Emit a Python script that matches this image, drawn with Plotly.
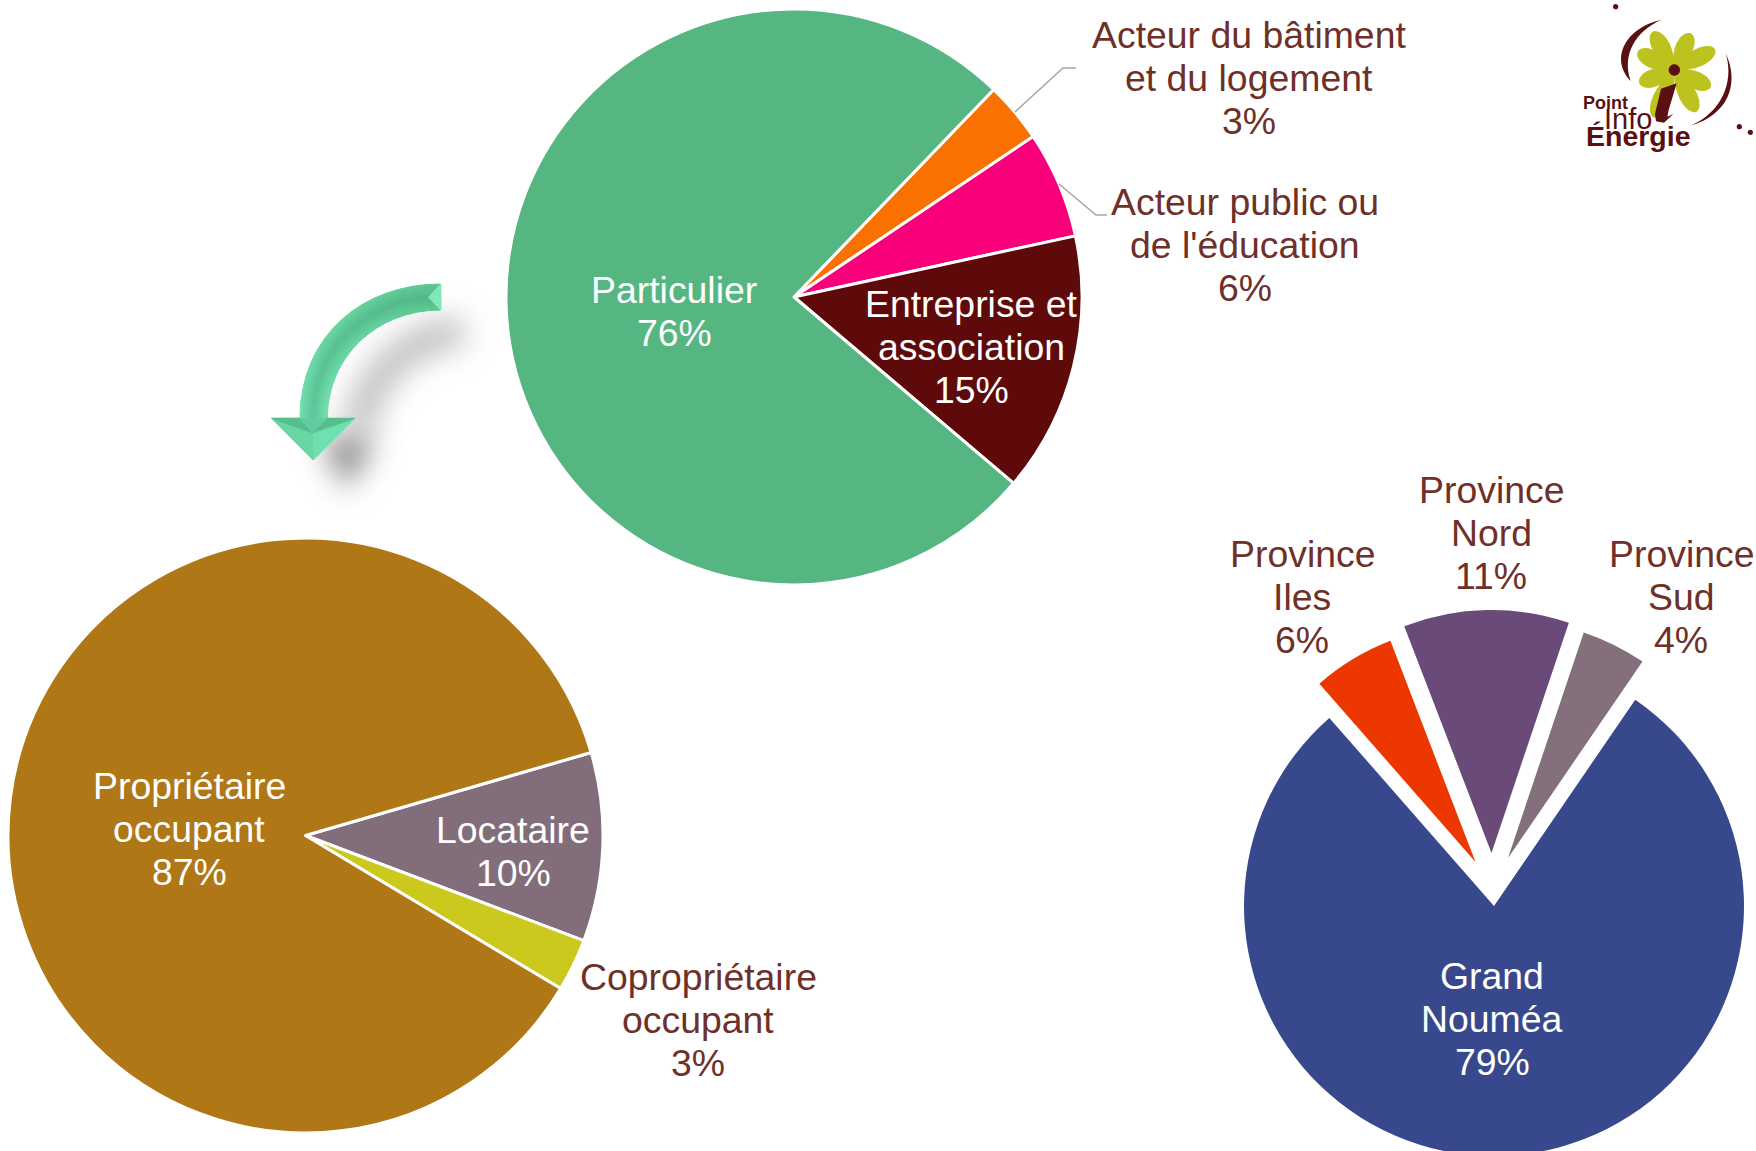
import plotly.graph_objects as go
import math

# ---- data ----
LABELS_TOP = ["Acteur du bâtiment et du logement", "Acteur public ou de l'éducation", "Entreprise et association", "Particulier"]
VALUES_TOP = [3.4, 6.0, 14.6, 76.0]
LABELS_LEFT = ["Locataire", "Copropriétaire occupant", "Propriétaire occupant"]
VALUES_LEFT = [10.25, 2.85, 86.9]
LABELS_RIGHT = ["Grand Nouméa", "Province Iles", "Province Nord", "Province Sud"]
VALUES_RIGHT = [79.0, 5.6, 11.0, 4.4]

COLORS_TOP = ["#F97100", "#F9007A", "#5F0A0A", "#55B682"]
COLORS_LEFT = ["#826E7A", "#CBC81E", "#B07716"]
COLORS_RIGHT = ["#38488C", "#EC3800", "#6A4A78", "#84707C"]

MAROON = "#6E3028"
WHITE = "#FFFFFF"
LOGO = "#5A0F10"
FONT = "Liberation Sans"
FS = 37.4
PITCH = 43

# figure slightly taller than the window: the bottom of the right pie is cut by the page
W, H = 1756, 1162
fx = lambda x: x / W
fy = lambda y: 1 - y / H
pt = lambda x, y: f"{fx(x):.5f},{fy(y):.5f}"


def domain(cx, cy, half):
    return dict(x=[fx(cx - half), fx(cx + half)], y=[fy(cy + half), fy(cy - half)])


fig = go.Figure()
fig.add_trace(go.Pie(labels=LABELS_TOP, values=VALUES_TOP, sort=False, direction="clockwise", rotation=43.9,
                     marker=dict(colors=COLORS_TOP, line=dict(color="white", width=3)), textinfo="none",
                     hoverinfo="label+percent", domain=domain(794, 297, 288), showlegend=False))
fig.add_trace(go.Pie(labels=LABELS_LEFT, values=VALUES_LEFT, sort=False, direction="clockwise", rotation=73.8,
                     marker=dict(colors=COLORS_LEFT, line=dict(color="white", width=3)), textinfo="none",
                     hoverinfo="label+percent", domain=domain(305.5, 835.5, 297.5), showlegend=False))
# exploded pie: each slice has its own centre and radius in the reference
RIGHT_GEOM = [(1494, 906, 250), (1475.5, 862, 237), (1491.5, 853, 243), (1508, 858, 238)]
for i, g in enumerate(RIGHT_GEOM):
    cols = [COLORS_RIGHT[j] if j == i else "rgba(0,0,0,0)" for j in range(4)]
    fig.add_trace(go.Pie(labels=LABELS_RIGHT, values=VALUES_RIGHT, sort=False, direction="clockwise", rotation=34.4,
                         marker=dict(colors=cols, line=dict(width=0)), textinfo="none", hoverinfo="skip",
                         domain=domain(*g), showlegend=False))

shapes = []


def path(d, fill=None, line=None, width=0, layer="above"):
    s = dict(type="path", path=d, xref="paper", yref="paper", layer=layer,
             line=dict(width=width, color=line or "rgba(0,0,0,0)"))
    if fill:
        s["fillcolor"] = fill
    shapes.append(s)


def poly(points, fill, seam=True):
    d = "M" + " L".join(pt(*p) for p in points) + " Z"
    path(d, fill=fill, line=fill if seam else None, width=1 if seam else 0)


def poly_line(points, color, width):
    path("M" + " L".join(pt(*p) for p in points), line=color, width=width)


# leader lines
poly_line([(1015, 112), (1063, 68), (1076, 68)], "#A6A6A6", 1.5)
poly_line([(1059, 184), (1096, 215), (1107, 215)], "#A6A6A6", 1.5)


# ---- curved arrow (decoration) ----
def az(x, y):
    return 250 + x / 3, 260 + y / 3


def bez(p, t):
    a = (1 - t) ** 3; b = 3 * t * (1 - t) ** 2; c = 3 * t * t * (1 - t); d = t ** 3
    return (a * p[0][0] + b * p[1][0] + c * p[2][0] + d * p[3][0],
            a * p[0][1] + b * p[1][1] + c * p[2][1] + d * p[3][1])


OUTER = [az(572, 72), az(340, 72), az(150, 225), az(150, 475)]
INNER = [az(572, 150), az(380, 150), az(232, 290), az(232, 475)]


def mix(c1, c2, t):
    a = [int(c1[i:i + 2], 16) for i in (1, 3, 5)]
    b = [int(c2[i:i + 2], 16) for i in (1, 3, 5)]
    return "#" + "".join(f"{round(a[i] + (b[i] - a[i]) * t):02X}" for i in range(3))


# soft shadow: two shapes blurred by the page script below (indices 2 and 3)
path(f"M{pt(*az(640, 218))} C{pt(*az(500, 215))} {pt(*az(345, 340))} {pt(*az(325, 510))}",
     line="rgba(100,100,100,0.42)", width=30)
poly([az(215, 535), az(375, 535), az(290, 690)], "rgba(80,80,80,0.72)", seam=False)

NT, NW = 16, 10
for i in range(NT):
    t0, t1 = i / NT, (i + 1) / NT
    o0, o1, n0, n1 = bez(OUTER, t0), bez(OUTER, t1), bez(INNER, t0), bez(INNER, t1)
    edge = mix("#5CC893", "#72E3B0", (t0 + t1) / 2)
    mid = mix("#52B685", "#5CC59A", (t0 + t1) / 2)
    for j in range(NW):
        s0, s1 = j / NW, (j + 1) / NW
        q = [(o0[0] + (n0[0] - o0[0]) * s0, o0[1] + (n0[1] - o0[1]) * s0),
             (o1[0] + (n1[0] - o1[0]) * s0, o1[1] + (n1[1] - o1[1]) * s0),
             (o1[0] + (n1[0] - o1[0]) * s1, o1[1] + (n1[1] - o1[1]) * s1),
             (o0[0] + (n0[0] - o0[0]) * s1, o0[1] + (n0[1] - o0[1]) * s1)]
        sm = (s0 + s1) / 2
        poly(q, mix(edge, mid, 1 - abs(2 * sm - 1)))
poly([az(572, 72), az(535, 112), az(572, 150)], "#7FE8BA")
poly([az(65, 475), az(315, 475), az(190, 600)], "#6FE0AE")
poly([az(65, 475), az(150, 475), az(187, 518), az(190, 600)], "#67D8A5")
poly([az(65, 475), az(150, 475), az(187, 518)], "#58BE8B")
poly([az(315, 475), az(232, 475), az(187, 518)], "#58BE8B")
poly([az(150, 475), az(232, 475), az(187, 518)], "#62CDA0")


# ---- logo (decoration) ----
def lz(x, y):
    return 1560 + x / 3, y / 3


def petal(cx, cy, tx, ty, wd):
    dx, dy = tx - cx, ty - cy
    n = math.hypot(dx, dy)
    ux, uy = -dy / n * wd, dx / n * wd
    a = lz(cx, cy); t = lz(tx, ty)
    c1 = lz(cx + dx * .55 + ux, cy + dy * .55 + uy); c2 = lz(cx + dx * .55 - ux, cy + dy * .55 - uy)
    d = f"M{pt(*a)} C{pt(*c1)} {pt(*lz(tx + ux * .5, ty + uy * .5))} {pt(*t)} C{pt(*lz(tx - ux * .5, ty - uy * .5))} {pt(*c2)} {pt(*a)} Z"
    path(d, fill="#BDC31E")


for tip in [(278, 95), (392, 100), (465, 148), (233, 155), (238, 250), (452, 262), (410, 335), (280, 352)]:
    petal(343, 210, tip[0], tip[1], 46)

# crescents
path(f"M{pt(*lz(303, 60))} C{pt(*lz(205, 80))} {pt(*lz(145, 170))} {pt(*lz(212, 243))} "
     f"C{pt(*lz(185, 165))} {pt(*lz(225, 95))} {pt(*lz(303, 60))} Z", fill=LOGO)
path(f"M{pt(*lz(497, 160))} C{pt(*lz(540, 250))} {pt(*lz(505, 345))} {pt(*lz(392, 377))} "
     f"C{pt(*lz(480, 340))} {pt(*lz(525, 250))} {pt(*lz(497, 160))} Z", fill=LOGO)


def dot(x, y, r):
    k = r * 0.5523
    a = lambda u, v: pt(*lz(u, v))
    path(f"M{a(x + r, y)} C{a(x + r, y + k)} {a(x + k, y + r)} {a(x, y + r)} C{a(x - k, y + r)} {a(x - r, y + k)} {a(x - r, y)} "
         f"C{a(x - r, y - k)} {a(x - k, y - r)} {a(x, y - r)} C{a(x + k, y - r)} {a(x + r, y - k)} {a(x + r, y)} Z", fill=LOGO)


dot(167, 20, 8); dot(538, 380, 8); dot(571, 397, 8); dot(343, 210, 17)
poly([lz(303, 266), lz(350, 250), lz(326, 330), lz(322, 350), lz(340, 342), lz(312, 368), lz(288, 364), lz(285, 342)],
     LOGO, seam=False)

annotations = []


def ann(x, y, text, color, size=FS, bold=False):
    annotations.append(dict(x=fx(x), y=fy(y), xref="paper", yref="paper", text=f"<b>{text}</b>" if bold else text,
                            showarrow=False, xanchor="center", yanchor="middle",
                            font=dict(family=FONT, size=size, color=color)))


def block(x, y, lines, color):
    for i, l in enumerate(lines):
        ann(x, y + i * PITCH, l, color)


block(1249, 35, ["Acteur du bâtiment", "et du logement", "3%"], MAROON)
block(1245, 202, ["Acteur public ou", "de l'éducation", "6%"], MAROON)
block(674, 290, ["Particulier", "76%"], WHITE)
block(971, 304, ["Entreprise et", "association", "15%"], WHITE)
block(1491, 490, ["Province", "Nord", "11%"], MAROON)
block(1302, 554, ["Province", "Iles", "6%"], MAROON)
block(1681, 554, ["Province", "Sud", "4%"], MAROON)
block(1492, 976, ["Grand", "Nouméa", "79%"], WHITE)
block(189, 786, ["Propriétaire", "occupant", "87%"], WHITE)
block(513, 830, ["Locataire", "10%"], WHITE)
block(698, 977, ["Copropriétaire", "occupant", "3%"], MAROON)

# logo text
ann(1560 + 137 / 3, 310 / 3, "Point", LOGO, size=18, bold=True)
ann(1560 + 203 / 3, 357 / 3, "Info", LOGO, size=29)
ann(1560 + 236 / 3, 408 / 3, "Énergie", LOGO, size=28.5, bold=True)

fig.update_layout(width=W, height=H, margin=dict(l=0, r=0, t=0, b=0), paper_bgcolor="white",
                  shapes=shapes, annotations=annotations, showlegend=False, font=dict(family=FONT))

POST = """
document.body.style.margin='0';
document.documentElement.style.overflow='hidden';
document.body.style.overflow='hidden';
function blurShadow(){
  document.querySelectorAll('.shapelayer path[data-index="2"], .shapelayer path[data-index="3"]').forEach(function(p){
    p.style.filter='blur(15px)';
  });
}
blurShadow();
setTimeout(blurShadow, 50);
"""
fig.write_html("out.html", post_script=POST, config=dict(displayModeBar=False))
